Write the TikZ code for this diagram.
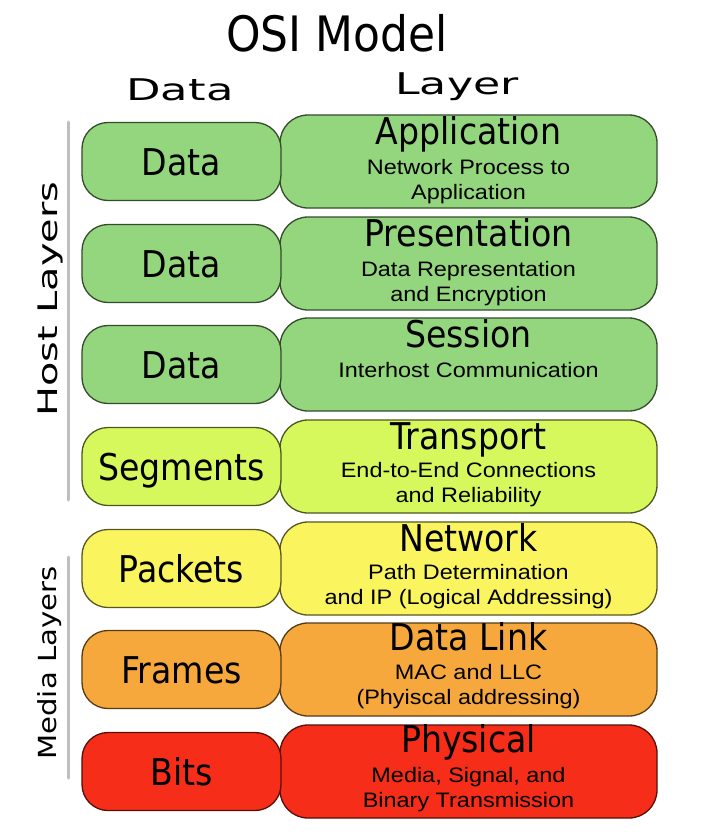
\documentclass[tikz,border=0pt]{standalone}
\usepackage{fontspec}
\usepackage{graphicx}
\setmainfont{DejaVu Sans}
\newfontfamily\condf{DejaVu Sans Condensed}
\newfontfamily\subf[FakeStretch=1.12]{Liberation Sans}
\definecolor{cgreen}{RGB}{148,214,125}
\definecolor{clime}{RGB}{215,248,92}
\definecolor{cyellow}{RGB}{250,245,95}
\definecolor{corange}{RGB}{247,168,60}
\definecolor{cred}{RGB}{245,45,25}
\definecolor{sidegray}{RGB}{190,190,190}
\begin{document}
\begin{tikzpicture}[x=1bp,y=-1bp,
  lbox/.style={draw=#1!35!black, fill=#1, line width=1.3bp, rounded corners=26bp,
    minimum width=199bp, minimum height=78bp, inner sep=0pt,
    font=\condf\fontsize{37}{37}\selectfont, text height=27bp, text depth=0pt},
  rbox/.style={draw=#1!35!black, fill=#1, line width=1.3bp, rounded corners=28bp,
    minimum width=377bp, minimum height=93bp, inner sep=0pt},
  bigw/.style={anchor=base, inner sep=0pt, font=\condf\fontsize{37}{37}\selectfont},
  subw/.style={anchor=north, inner sep=0pt, align=center, font=\subf\fontsize{21}{25.5}\selectfont},
  head/.style={inner sep=0pt, font=\fontsize{30}{30}\selectfont},
  side/.style={inner sep=0pt, rotate=90},
  sideline/.style={draw=sidegray, line width=3bp, line cap=round},
]
\useasboundingbox (0,0) rectangle (714,836);

% title and headers
\node[inner sep=0pt, font=\condf\fontsize{49}{49}\selectfont] (title) at (337,33) {OSI Model};
\node[head] (hdata) at (180,90) {\scalebox{1.5}[1]{Data}};
\node[head] (hlayer) at (457,87) {\scalebox{1.48}[1]{Layer}};

% side labels
\node[side, font=\fontsize{27}{27}\selectfont] (host) at (50,299) {\scalebox{1.48}[1]{Host Layers}};
\node[side, font=\fontsize{25}{25}\selectfont] (media) at (50,663) {\scalebox{1.17}[1]{Media Layers}};
\coordinate (h1) at (68,122);
\coordinate (h2) at (68,500);
\coordinate (m1) at (68,557);
\coordinate (m2) at (68,778);
\draw[sideline] (h1) -- (h2);
\draw[sideline] (m1) -- (m2);

% row 1
\node[rbox=cgreen] (l1) at (468.5,161.5) {};
\node[lbox=cgreen] (d1) at (181.5,161.5) {Data};
\node[bigw] (n1) at ([yshift=-30bp]l1.north) {Application};
\node[subw] (s1) at ([yshift=-40bp]l1.north) {\rule{0pt}{20bp}Network Process to\\Application};

% row 2
\node[rbox=cgreen] (l2) at (468.5,263.5) {};
\node[lbox=cgreen] (d2) at (181.5,263.5) {Data};
\node[bigw] (n2) at ([yshift=-30bp]l2.north) {Presentation};
\node[subw] (s2) at ([yshift=-40bp]l2.north) {\rule{0pt}{20bp}Data Representation\\and Encryption};

% row 3
\node[rbox=cgreen] (l3) at (468.5,364.5) {};
\node[lbox=cgreen] (d3) at (181.5,364.5) {Data};
\node[bigw] (n3) at ([yshift=-30bp]l3.north) {Session};
\node[subw] (s3) at ([yshift=-40bp]l3.north) {\rule{0pt}{20bp}Interhost Communication};

% row 4
\node[rbox=clime] (l4) at (468.5,466.5) {};
\node[lbox=clime] (d4) at (181.5,466.5) {Segments};
\node[bigw] (n4) at ([yshift=-30bp]l4.north) {Transport};
\node[subw] (s4) at ([yshift=-38bp]l4.north) {\rule{0pt}{20bp}End-to-End Connections\\and Reliability};

% row 5
\node[rbox=cyellow] (l5) at (468.5,568.5) {};
\node[lbox=cyellow] (d5) at (181.5,568.5) {Packets};
\node[bigw] (n5) at ([yshift=-30bp]l5.north) {Network};
\node[subw] (s5) at ([yshift=-38bp]l5.north) {\rule{0pt}{20bp}Path Determination\\and IP (Logical Addressing)};

% row 6
\node[rbox=corange] (l6) at (468.5,669.5) {};
\node[lbox=corange] (d6) at (181.5,669.5) {Frames};
\node[bigw] (n6) at ([yshift=-28bp]l6.north) {Data Link};
\node[subw] (s6) at ([yshift=-37bp]l6.north) {\rule{0pt}{20bp}MAC and LLC\\(Phyiscal addressing)};

% row 7
\node[rbox=cred] (l7) at (468.5,771.5) {};
\node[lbox=cred] (d7) at (181.5,771.5) {Bits};
\node[bigw] (n7) at ([yshift=-28bp]l7.north) {Physical};
\node[subw] (s7) at ([yshift=-38bp]l7.north) {\rule{0pt}{20bp}Media, Signal, and\\Binary Transmission};
\end{tikzpicture}
\end{document}
